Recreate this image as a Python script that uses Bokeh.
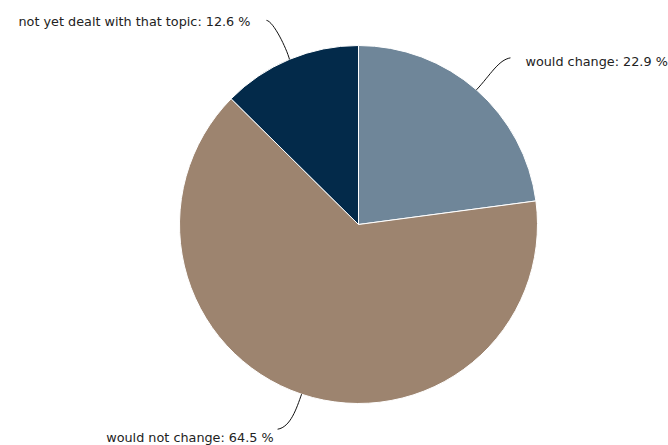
import math
from bokeh.plotting import figure
from bokeh.models import ColumnDataSource, Range1d
from bokeh.core.properties import value
from bokeh.embed import file_html
from bokeh.resources import INLINE

categories = ["would change", "would not change", "not yet dealt with that topic"]
shares = [22.9, 64.5, 12.6]
colors = ["#6f8699", "#9d846f", "#032a4a"]

W, H = 668, 445
p = figure(width=W, height=H, output_backend="svg", toolbar_location=None,
           x_range=Range1d(0, W), y_range=Range1d(0, H), min_border=0)
p.axis.visible = False
p.grid.visible = False
p.outline_line_color = None

# pie geometry (screen-pixel units; y measured upward)
cx, cy, r = 358, H - 224, 179
total = sum(shares)
starts, ends, mids = [], [], []
cum = 0.0
for s in shares:
    c0 = cum / total
    cum += s
    c1 = cum / total
    starts.append(math.pi / 2 - 2 * math.pi * c1)
    ends.append(math.pi / 2 - 2 * math.pi * c0)
    mids.append(math.pi / 2 - 2 * math.pi * (c0 + c1) / 2)

src = ColumnDataSource(dict(start=starts, end=ends, color=colors, cat=categories))
p.wedge(x=cx, y=cy, radius=r, start_angle="start", end_angle="end",
        fill_color="color", line_color="white", line_width=1, source=src)

edge = [(cx + r * math.cos(a), cy + r * math.sin(a)) for a in mids]
# connector offsets from edge point: control0, control1, end (x right, y up)
conn = [
    (14, 15, 22, 30, 34, 32),
    (-5, -14, -11, -33, -24, -35),
    (-3, 11, -16, 38, -23, 39),
]
x0s, y0s, cx0s, cy0s, cx1s, cy1s, x1s, y1s = [], [], [], [], [], [], [], []
for (ex, ey), (a, b, c, d, e, f) in zip(edge, conn):
    x0s.append(ex); y0s.append(ey)
    cx0s.append(ex + a); cy0s.append(ey + b)
    cx1s.append(ex + c); cy1s.append(ey + d)
    x1s.append(ex + e); y1s.append(ey + f)
p.bezier(x0=x0s, y0=y0s, x1=x1s, y1=y1s, cx0=cx0s, cy0=cy0s, cx1=cx1s, cy1=cy1s,
         line_color="#111111", line_width=1)

labels = [f"{c}: {s} %" for c, s in zip(categories, shares)]
lx = [x1s[0] + 15, x1s[1] - 4, x1s[2] - 16]
ly = [y1s[0] - 4, y1s[1] - 8, y1s[2] - 1]
align = ["left", "right", "right"]
p.text(x=lx, y=ly, text=labels, text_align=align, text_baseline="middle",
       text_font=value("DejaVu Sans"), text_font_size="12.8px", text_color="#222222")

open("out.html", "w").write(file_html(p, INLINE))
